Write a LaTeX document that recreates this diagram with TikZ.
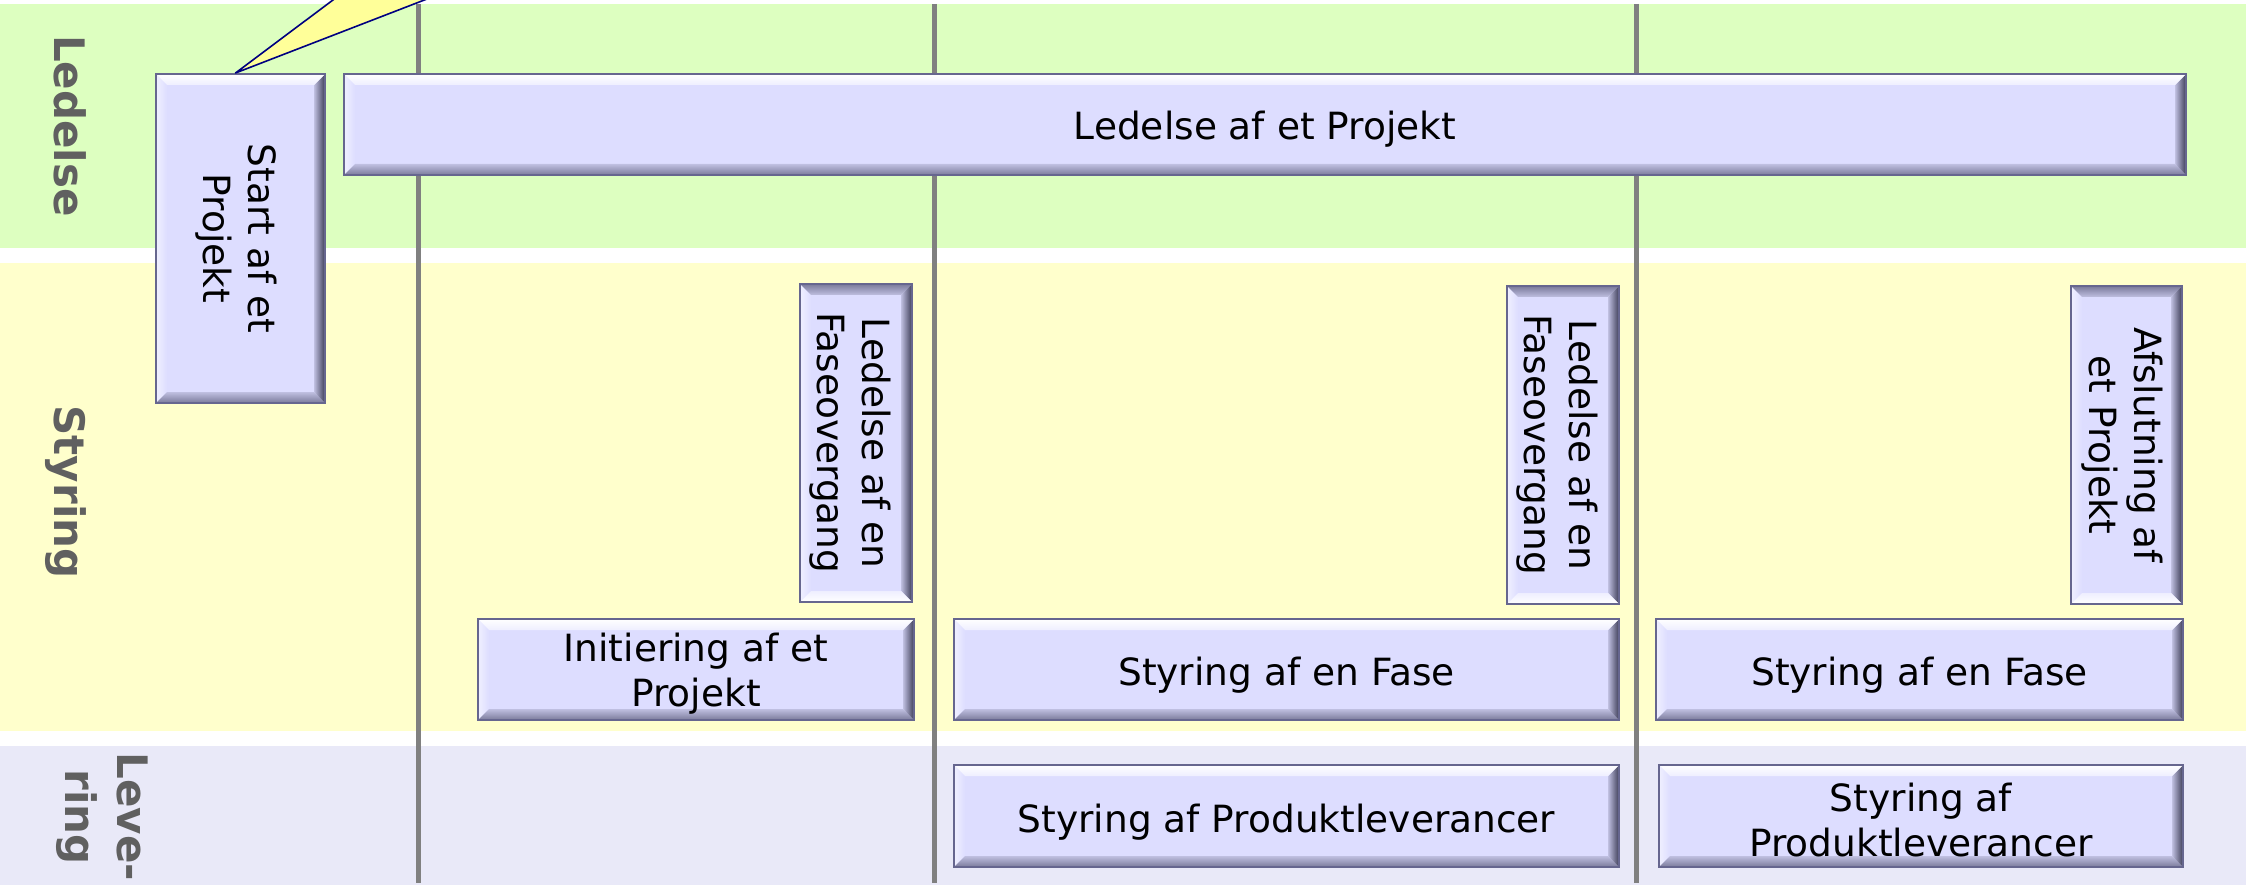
\documentclass[tikz,border=0pt]{standalone}
\usepackage{fontspec}
\setmainfont{DejaVu Sans}
\usetikzlibrary{fit,calc}
\definecolor{bandgreen}{HTML}{DDFFC0}
\definecolor{bandyellow}{HTML}{FFFFCC}
\definecolor{bandlav}{HTML}{E9E9F8}
\definecolor{boxface}{HTML}{DDDDFF}
\definecolor{boxline}{HTML}{66668F}
\definecolor{bevdark}{HTML}{7A7A9A}
\definecolor{bevdarker}{HTML}{3E3E58}
\definecolor{divider}{HTML}{808080}
\definecolor{labelgray}{HTML}{606060}
\definecolor{callfill}{HTML}{FFFF99}
\definecolor{callline}{HTML}{000080}
\newcommand\boxfont{\fontsize{37.5}{45}\selectfont}
\newcommand\bandfont{\fontsize{42}{52}\selectfont\bfseries}
\tikzset{
 boxbase/.style={draw=boxline, line width=2pt, fill=boxface, inner sep=0pt},
 pbox/.style={boxbase,
  path picture={
   \coordinate (NW) at (path picture bounding box.north west);
   \coordinate (NE) at (path picture bounding box.north east);
   \coordinate (SW) at (path picture bounding box.south west);
   \coordinate (SE) at (path picture bounding box.south east);
   \path[left color=white!55!boxface, right color=boxface]
     (NW) -- ([shift={(11pt,-11pt)}]NW) -- ([shift={(11pt,11pt)}]SW) -- (SW) -- cycle;
   \path[top color=boxface!70!bevdark, bottom color=bevdark]
     (SW) -- ([shift={(11pt,11pt)}]SW) -- ([shift={(-11pt,11pt)}]SE) -- (SE) -- cycle;
   \path[left color=boxface!70!bevdark, right color=bevdarker]
     (NE) -- ([shift={(-11pt,-11pt)}]NE) -- ([shift={(-11pt,11pt)}]SE) -- (SE) -- cycle;
   \path[top color=white, bottom color=boxface!50!white]
     (NW) -- (NE) -- ([shift={(-11pt,-11pt)}]NE) -- ([shift={(11pt,-11pt)}]NW) -- cycle;
  }},
 pboxv/.style={boxbase,
  path picture={
   \coordinate (NW) at (path picture bounding box.north west);
   \coordinate (NE) at (path picture bounding box.north east);
   \coordinate (SW) at (path picture bounding box.south west);
   \coordinate (SE) at (path picture bounding box.south east);
   \path[left color=white!55!boxface, right color=boxface]
     (NW) -- ([shift={(11pt,-11pt)}]NW) -- ([shift={(11pt,11pt)}]SW) -- (SW) -- cycle;
   \path[bottom color=boxface!70!bevdark, top color=bevdark]
     (NW) -- ([shift={(11pt,-11pt)}]NW) -- ([shift={(-11pt,-11pt)}]NE) -- (NE) -- cycle;
   \path[left color=boxface!70!bevdark, right color=bevdarker]
     (NE) -- ([shift={(-11pt,-11pt)}]NE) -- ([shift={(-11pt,11pt)}]SE) -- (SE) -- cycle;
   \path[bottom color=white, top color=boxface!50!white]
     (SW) -- (SE) -- ([shift={(-11pt,11pt)}]SE) -- ([shift={(11pt,11pt)}]SW) -- cycle;
  }},
 htext/.style={align=center, font=\boxfont, inner sep=0pt},
 vtext/.style={rotate=-90, align=center, font=\boxfont, inner sep=0pt},
 bandlabel/.style={rotate=-90, align=center, font=\bandfont, text=labelgray, inner sep=0pt},
 divline/.style={draw=divider, line width=5pt},
 callout/.style={fill=callfill, draw=callline, line width=1.6pt, line join=round}
}
\begin{document}
\begin{tikzpicture}[x=1pt,y=-1pt]
\useasboundingbox (0,0) rectangle (2246,885);
\clip (0,0) rectangle (2246,885);
% bands
\fill[bandgreen] (0,4) rectangle (2246,248);
\fill[bandyellow] (0,263) rectangle (2246,731);
\fill[bandlav] (0,746) rectangle (2246,885);
% phase dividers
\draw[divline] (418,4) -- (418,883);
\draw[divline] (934,4) -- (934,883);
\draw[divline] (1636,4) -- (1636,883);
% process boxes
\node[pbox, fit={(156,74) (325,403)}] (start) {};
\node[pbox, fit={(344,74) (2186,175)}] (ledproj) {};
\node[pboxv, fit={(800,284) (912,602)}] (fase1) {};
\node[pbox, fit={(478,619) (914,720)}] (init) {};
\node[pbox, fit={(954,619) (1619,720)}] (styr1) {};
\node[pboxv, fit={(1507,286) (1619,604)}] (fase2) {};
\node[pboxv, fit={(2071,286) (2182,604)}] (afsl) {};
\node[pbox, fit={(1656,619) (2183,720)}] (styr2) {};
\node[pbox, fit={(954,765) (1619,867)}] (prod1) {};
\node[pbox, fit={(1659,765) (2183,867)}] (prod2) {};
% horizontal texts
\node[htext] (tledproj) at ($(ledproj.center)+(0,5)$) {Ledelse af et Projekt};
\node[htext] (tinit) at ($(init.center)+(0,4)$) {Initiering af et\\Projekt};
\node[htext] (tstyr1) at ($(styr1.center)+(0,6)$) {Styring af en Fase};
\node[htext] (tstyr2) at ($(styr2.center)+(0,6)$) {Styring af en Fase};
\node[htext] (tprod1) at ($(prod1.center)+(0,6)$) {Styring af Produktleverancer};
\node[htext] (tprod2) at ($(prod2.center)+(0,4)$) {Styring af\\Produktleverancer};
% vertical texts
\node[vtext] (tstart) at ($(start.center)+(-4,0)$) {Start af et\\Projekt};
\node[vtext] (tfase1) at ($(fase1.center)+(-6,0)$) {Ledelse af en\\Faseovergang};
\node[vtext] (tfase2) at ($(fase2.center)+(-6,0)$) {Ledelse af en\\Faseovergang};
\node[vtext] (tafsl) at ($(afsl.center)+(-4,0)$) {Afslutning af\\et Projekt};
% callout
\coordinate (tip) at ($(start.north)+(-5,0)$);
\coordinate (cl) at (373,-30);
\coordinate (cr) at (502,-30);
\filldraw[callout] (tip) -- (cl) -- (cr) -- cycle;
% band labels
\node[bandlabel, anchor=base] (lled) at (54,126) {Ledelse};
\node[bandlabel, anchor=base] (lstyr) at (54,492) {Styring};
\node[bandlabel, anchor=center] (llev) at (102,817) {Leve-\\ring};
\end{tikzpicture}
\end{document}
